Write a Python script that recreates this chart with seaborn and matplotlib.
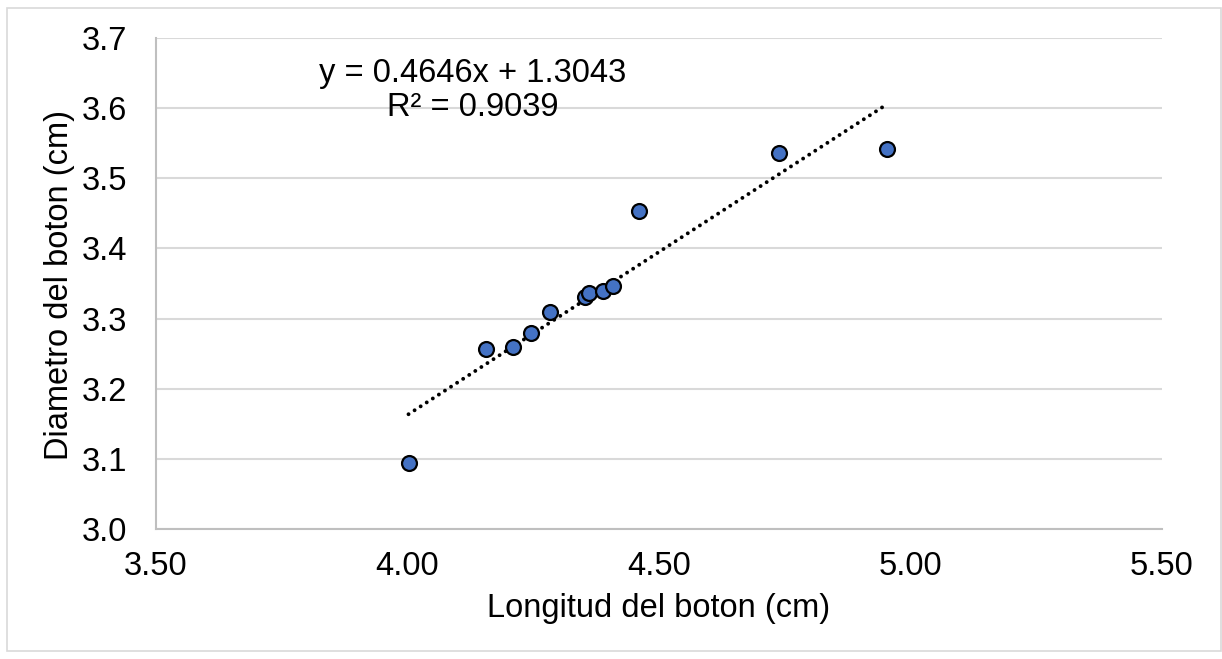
import numpy as np
import matplotlib
matplotlib.use('Agg')
import matplotlib.pyplot as plt
import pandas as pd
import seaborn as sns
from matplotlib.patches import Rectangle

# values
longitud = [4.002, 4.157, 4.209, 4.246, 4.284, 4.352, 4.360, 4.388, 4.408, 4.460, 4.738, 4.953]
diametro = [3.094, 3.257, 3.260, 3.280, 3.309, 3.331, 3.337, 3.340, 3.346, 3.454, 3.536, 3.542]
slope = 0.4646
intercept = 1.3043
eq_text = 'y = 0.4646x + 1.3043'
r2_text = 'R² = 0.9039'
x_ticks = [3.50, 4.00, 4.50, 5.00, 5.50]
y_ticks = [3.0, 3.1, 3.2, 3.3, 3.4, 3.5, 3.6, 3.7]

df = pd.DataFrame({'x': longitud, 'y': diametro})
trend_x = np.array([min(longitud), max(longitud)])
trend = pd.DataFrame({'x': trend_x, 'y': slope * trend_x + intercept})

sns.set_style('white')
plt.rcParams['font.family'] = ['Liberation Sans', 'DejaVu Sans']
plt.rcParams['text.color'] = 'black'
plt.rcParams['axes.labelcolor'] = 'black'

fs = 23.5

fig = plt.figure(figsize=(12.22, 6.59), dpi=100)
ax = fig.add_axes([156 / 1222, 1 - 529 / 659, 1006 / 1222, 491 / 659])

# chart border
fig.patches.append(Rectangle((7 / 1222, 1 - 651 / 659), 1214 / 1222, 643 / 659,
                             transform=fig.transFigure, fill=False,
                             edgecolor='#D9D9D9', linewidth=1.2))

sns.lineplot(data=trend, x='x', y='y', ax=ax, color='black', linewidth=2.8,
             dashes=False, zorder=3)
ax.lines[-1].set_linestyle((0, (0.01, 1.85)))
ax.lines[-1].set_dash_capstyle('round')
sns.scatterplot(data=df, x='x', y='y', ax=ax, color='#4472C4', s=115,
                edgecolor='black', linewidth=1.6, zorder=4)

ax.set_xlim(3.5, 5.5)
ax.set_ylim(3.0, 3.7)
ax.set_xticks(x_ticks)
ax.set_xticklabels([f'{v:.2f}' for v in x_ticks])
ax.set_yticks(y_ticks)
ax.set_yticklabels([f'{v:.1f}' for v in y_ticks])
ax.tick_params(axis='both', length=0, labelsize=fs, colors='black')
ax.tick_params(axis='x', pad=16)
ax.tick_params(axis='y', pad=21)

ax.grid(axis='y', color='#D9D9D9', linewidth=1.5)
ax.set_axisbelow(True)
for side in ['top', 'right']:
    ax.spines[side].set_visible(False)
for side in ['left', 'bottom']:
    ax.spines[side].set_color('#BFBFBF')
    ax.spines[side].set_linewidth(1.5)

ax.set_xlabel('Longitud del boton (cm)', fontsize=fs, va='center')
ax.set_ylabel('Diametro del boton (cm)', fontsize=fs, va='center')
ax.xaxis.set_label_coords(0.5, (529 - 608) / 491)
ax.yaxis.set_label_coords((60 - 156) / 1006, (529 - 285) / 491)

ax.text(4.13, 3.649, eq_text, fontsize=fs, ha='center', va='center')
ax.text(4.13, 3.601, r2_text, fontsize=fs, ha='center', va='center')

fig.savefig('out.png', dpi=100)
